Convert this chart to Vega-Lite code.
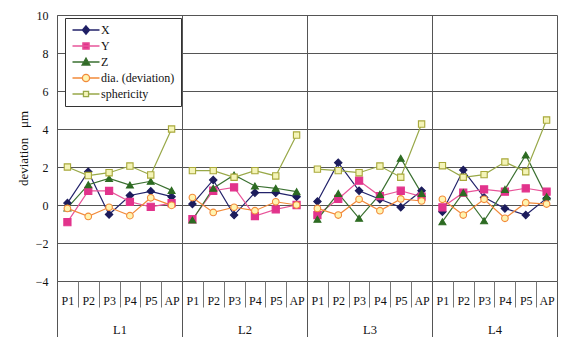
{
  "$schema": "https://vega.github.io/schema/vega-lite/v6.json",
  "width": 500,
  "height": 266,
  "autosize": "none",
  "padding": {"left": 57, "top": 15, "right": 7, "bottom": 56},
  "background": "white",
  "config": {
    "font": "Liberation Serif",
    "view": {"stroke": null},
    "axisY": {
      "values": [-4, -2, 0, 2, 4, 6, 8, 10],
      "grid": true,
      "gridColor": "#555",
      "gridOpacity": 1,
      "tickSize": 0,
      "labelPadding": 9,
      "domainColor": "#555",
      "labelFontSize": 12,
      "labelColor": "#111",
      "titleFontSize": 13,
      "titleFontWeight": "normal",
      "titleColor": "#111",
      "titlePadding": 5
    }
  },
  "data": {
    "values": [
      {"group": "L1", "cat": "L1 P1", "series": "X", "value": 0.1},
      {"group": "L1", "cat": "L1 P2", "series": "X", "value": 1.75},
      {"group": "L1", "cat": "L1 P3", "series": "X", "value": -0.5},
      {"group": "L1", "cat": "L1 P4", "series": "X", "value": 0.5},
      {"group": "L1", "cat": "L1 P5", "series": "X", "value": 0.72},
      {"group": "L1", "cat": "L1 AP", "series": "X", "value": 0.44},
      {"group": "L2", "cat": "L2 P1", "series": "X", "value": 0.05},
      {"group": "L2", "cat": "L2 P2", "series": "X", "value": 1.32},
      {"group": "L2", "cat": "L2 P3", "series": "X", "value": -0.53},
      {"group": "L2", "cat": "L2 P4", "series": "X", "value": 0.65},
      {"group": "L2", "cat": "L2 P5", "series": "X", "value": 0.65},
      {"group": "L2", "cat": "L2 AP", "series": "X", "value": 0.44},
      {"group": "L3", "cat": "L3 P1", "series": "X", "value": 0.18},
      {"group": "L3", "cat": "L3 P2", "series": "X", "value": 2.23},
      {"group": "L3", "cat": "L3 P3", "series": "X", "value": 0.75},
      {"group": "L3", "cat": "L3 P4", "series": "X", "value": 0.3},
      {"group": "L3", "cat": "L3 P5", "series": "X", "value": -0.12},
      {"group": "L3", "cat": "L3 AP", "series": "X", "value": 0.75},
      {"group": "L4", "cat": "L4 P1", "series": "X", "value": -0.35},
      {"group": "L4", "cat": "L4 P2", "series": "X", "value": 1.84},
      {"group": "L4", "cat": "L4 P3", "series": "X", "value": 0.4},
      {"group": "L4", "cat": "L4 P4", "series": "X", "value": -0.18},
      {"group": "L4", "cat": "L4 P5", "series": "X", "value": -0.53},
      {"group": "L4", "cat": "L4 AP", "series": "X", "value": 0.35},

      {"group": "L1", "cat": "L1 P1", "series": "Y", "value": -0.9},
      {"group": "L1", "cat": "L1 P2", "series": "Y", "value": 0.74},
      {"group": "L1", "cat": "L1 P3", "series": "Y", "value": 0.74},
      {"group": "L1", "cat": "L1 P4", "series": "Y", "value": 0.17},
      {"group": "L1", "cat": "L1 P5", "series": "Y", "value": -0.1},
      {"group": "L1", "cat": "L1 AP", "series": "Y", "value": 0.1},
      {"group": "L2", "cat": "L2 P1", "series": "Y", "value": -0.75},
      {"group": "L2", "cat": "L2 P2", "series": "Y", "value": 0.75},
      {"group": "L2", "cat": "L2 P3", "series": "Y", "value": 0.93},
      {"group": "L2", "cat": "L2 P4", "series": "Y", "value": -0.58},
      {"group": "L2", "cat": "L2 P5", "series": "Y", "value": -0.23},
      {"group": "L2", "cat": "L2 AP", "series": "Y", "value": 0.0},
      {"group": "L3", "cat": "L3 P1", "series": "Y", "value": -0.53},
      {"group": "L3", "cat": "L3 P2", "series": "Y", "value": 0.32},
      {"group": "L3", "cat": "L3 P3", "series": "Y", "value": 1.28},
      {"group": "L3", "cat": "L3 P4", "series": "Y", "value": 0.47},
      {"group": "L3", "cat": "L3 P5", "series": "Y", "value": 0.75},
      {"group": "L3", "cat": "L3 AP", "series": "Y", "value": 0.44},
      {"group": "L4", "cat": "L4 P1", "series": "Y", "value": -0.12},
      {"group": "L4", "cat": "L4 P2", "series": "Y", "value": 0.65},
      {"group": "L4", "cat": "L4 P3", "series": "Y", "value": 0.82},
      {"group": "L4", "cat": "L4 P4", "series": "Y", "value": 0.7},
      {"group": "L4", "cat": "L4 P5", "series": "Y", "value": 0.88},
      {"group": "L4", "cat": "L4 AP", "series": "Y", "value": 0.7},

      {"group": "L1", "cat": "L1 P1", "series": "Z", "value": -0.15},
      {"group": "L1", "cat": "L1 P2", "series": "Z", "value": 1.07},
      {"group": "L1", "cat": "L1 P3", "series": "Z", "value": 1.4},
      {"group": "L1", "cat": "L1 P4", "series": "Z", "value": 1.05},
      {"group": "L1", "cat": "L1 P5", "series": "Z", "value": 1.25},
      {"group": "L1", "cat": "L1 AP", "series": "Z", "value": 0.77},
      {"group": "L2", "cat": "L2 P1", "series": "Z", "value": -0.79},
      {"group": "L2", "cat": "L2 P2", "series": "Z", "value": 0.88},
      {"group": "L2", "cat": "L2 P3", "series": "Z", "value": 1.58},
      {"group": "L2", "cat": "L2 P4", "series": "Z", "value": 1.0},
      {"group": "L2", "cat": "L2 P5", "series": "Z", "value": 0.88},
      {"group": "L2", "cat": "L2 AP", "series": "Z", "value": 0.7},
      {"group": "L3", "cat": "L3 P1", "series": "Z", "value": -0.75},
      {"group": "L3", "cat": "L3 P2", "series": "Z", "value": 0.61},
      {"group": "L3", "cat": "L3 P3", "series": "Z", "value": -0.7},
      {"group": "L3", "cat": "L3 P4", "series": "Z", "value": 0.56},
      {"group": "L3", "cat": "L3 P5", "series": "Z", "value": 2.46},
      {"group": "L3", "cat": "L3 AP", "series": "Z", "value": 0.61},
      {"group": "L4", "cat": "L4 P1", "series": "Z", "value": -0.88},
      {"group": "L4", "cat": "L4 P2", "series": "Z", "value": 0.65},
      {"group": "L4", "cat": "L4 P3", "series": "Z", "value": -0.83},
      {"group": "L4", "cat": "L4 P4", "series": "Z", "value": 0.82},
      {"group": "L4", "cat": "L4 P5", "series": "Z", "value": 2.63},
      {"group": "L4", "cat": "L4 AP", "series": "Z", "value": 0.44},

      {"group": "L1", "cat": "L1 P1", "series": "dia. (deviation)", "value": -0.18},
      {"group": "L1", "cat": "L1 P2", "series": "dia. (deviation)", "value": -0.6},
      {"group": "L1", "cat": "L1 P3", "series": "dia. (deviation)", "value": -0.12},
      {"group": "L1", "cat": "L1 P4", "series": "dia. (deviation)", "value": -0.56},
      {"group": "L1", "cat": "L1 P5", "series": "dia. (deviation)", "value": 0.38},
      {"group": "L1", "cat": "L1 AP", "series": "dia. (deviation)", "value": -0.02},
      {"group": "L2", "cat": "L2 P1", "series": "dia. (deviation)", "value": 0.39},
      {"group": "L2", "cat": "L2 P2", "series": "dia. (deviation)", "value": -0.39},
      {"group": "L2", "cat": "L2 P3", "series": "dia. (deviation)", "value": -0.12},
      {"group": "L2", "cat": "L2 P4", "series": "dia. (deviation)", "value": -0.3},
      {"group": "L2", "cat": "L2 P5", "series": "dia. (deviation)", "value": 0.17},
      {"group": "L2", "cat": "L2 AP", "series": "dia. (deviation)", "value": 0.0},
      {"group": "L3", "cat": "L3 P1", "series": "dia. (deviation)", "value": -0.18},
      {"group": "L3", "cat": "L3 P2", "series": "dia. (deviation)", "value": -0.53},
      {"group": "L3", "cat": "L3 P3", "series": "dia. (deviation)", "value": 0.3},
      {"group": "L3", "cat": "L3 P4", "series": "dia. (deviation)", "value": -0.3},
      {"group": "L3", "cat": "L3 P5", "series": "dia. (deviation)", "value": 0.32},
      {"group": "L3", "cat": "L3 AP", "series": "dia. (deviation)", "value": 0.21},
      {"group": "L4", "cat": "L4 P1", "series": "dia. (deviation)", "value": 0.3},
      {"group": "L4", "cat": "L4 P2", "series": "dia. (deviation)", "value": -0.53},
      {"group": "L4", "cat": "L4 P3", "series": "dia. (deviation)", "value": 0.3},
      {"group": "L4", "cat": "L4 P4", "series": "dia. (deviation)", "value": -0.7},
      {"group": "L4", "cat": "L4 P5", "series": "dia. (deviation)", "value": 0.12},
      {"group": "L4", "cat": "L4 AP", "series": "dia. (deviation)", "value": 0.05},

      {"group": "L1", "cat": "L1 P1", "series": "sphericity", "value": 2.0},
      {"group": "L1", "cat": "L1 P2", "series": "sphericity", "value": 1.55},
      {"group": "L1", "cat": "L1 P3", "series": "sphericity", "value": 1.7},
      {"group": "L1", "cat": "L1 P4", "series": "sphericity", "value": 2.05},
      {"group": "L1", "cat": "L1 P5", "series": "sphericity", "value": 1.58},
      {"group": "L1", "cat": "L1 AP", "series": "sphericity", "value": 4.0},
      {"group": "L2", "cat": "L2 P1", "series": "sphericity", "value": 1.81},
      {"group": "L2", "cat": "L2 P2", "series": "sphericity", "value": 1.81},
      {"group": "L2", "cat": "L2 P3", "series": "sphericity", "value": 1.46},
      {"group": "L2", "cat": "L2 P4", "series": "sphericity", "value": 1.81},
      {"group": "L2", "cat": "L2 P5", "series": "sphericity", "value": 1.53},
      {"group": "L2", "cat": "L2 AP", "series": "sphericity", "value": 3.68},
      {"group": "L3", "cat": "L3 P1", "series": "sphericity", "value": 1.89},
      {"group": "L3", "cat": "L3 P2", "series": "sphericity", "value": 1.81},
      {"group": "L3", "cat": "L3 P3", "series": "sphericity", "value": 1.7},
      {"group": "L3", "cat": "L3 P4", "series": "sphericity", "value": 2.05},
      {"group": "L3", "cat": "L3 P5", "series": "sphericity", "value": 1.46},
      {"group": "L3", "cat": "L3 AP", "series": "sphericity", "value": 4.26},
      {"group": "L4", "cat": "L4 P1", "series": "sphericity", "value": 2.07},
      {"group": "L4", "cat": "L4 P2", "series": "sphericity", "value": 1.46},
      {"group": "L4", "cat": "L4 P3", "series": "sphericity", "value": 1.6},
      {"group": "L4", "cat": "L4 P4", "series": "sphericity", "value": 2.26},
      {"group": "L4", "cat": "L4 P5", "series": "sphericity", "value": 1.75},
      {"group": "L4", "cat": "L4 AP", "series": "sphericity", "value": 4.47}
    ]
  },
  "resolve": {
    "scale": {"x": "independent", "stroke": "independent", "fill": "independent", "shape": "independent", "size": "independent"},
    "axis": {"x": "independent"}
  },
  "layer": [
    {
      "mark": {"type": "line", "strokeWidth": 1.2},
      "encoding": {
        "x": {
          "field": "cat",
          "type": "nominal",
          "sort": null,
          "scale": {"paddingInner": 0, "paddingOuter": 0},
          "axis": {
            "orient": "bottom",
            "title": null,
            "tickBand": "extent",
            "tickSize": 26,
            "tickColor": "#777",
            "domain": false,
            "grid": false,
            "labelPadding": -12,
            "labelFontSize": 12,
            "labelColor": "#111",
            "labelAngle": 0,
            "labelExpr": "split(datum.label, ' ')[1]"
          }
        },
        "y": {
          "field": "value",
          "type": "quantitative",
          "scale": {"domain": [-4, 10], "nice": false, "zero": false},
          "axis": {"title": "deviation\u00a0\u00a0\u00a0μm", "values": [-4, -2, 0, 2, 4, 6, 8, 10]}
        },
        "detail": {"field": "group"},
        "order": {"value": null},
        "stroke": {
          "field": "series",
          "type": "nominal",
          "legend": null,
          "scale": {
            "domain": ["X", "Y", "Z", "dia. (deviation)", "sphericity"],
            "range": ["#22226a", "#e8559a", "#3a7030", "#f28a3a", "#98a848"]
          }
        }
      }
    },
    {
      "mark": {"type": "rule", "opacity": 0},
      "encoding": {
        "x": {
          "field": "group",
          "type": "nominal",
          "sort": null,
          "scale": {"paddingInner": 0, "paddingOuter": 0},
          "axis": {
            "orient": "bottom",
            "title": null,
            "tickBand": "extent",
            "grid": true,
            "gridColor": "#555",
            "gridWidth": 1,
            "gridOpacity": 1,
            "tickSize": 56,
            "tickColor": "#555",
            "domain": false,
            "labelPadding": -14,
            "labelFontSize": 12.5,
            "labelColor": "#111",
            "labelAngle": 0
          }
        }
      }
    },
    {
      "mark": {"type": "point", "filled": true, "strokeWidth": 1.1, "opacity": 1},
      "encoding": {
        "x": {"field": "cat", "type": "nominal", "sort": null, "scale": {"paddingInner": 0, "paddingOuter": 0}, "axis": null},
        "y": {
          "field": "value",
          "type": "quantitative",
          "axis": {"title": "deviation\u00a0\u00a0\u00a0μm", "values": [-4, -2, 0, 2, 4, 6, 8, 10]}
        },
        "shape": {
          "field": "series",
          "type": "nominal",
          "legend": null,
          "scale": {
            "domain": ["X", "Y", "Z", "dia. (deviation)", "sphericity"],
            "range": ["diamond", "square", "triangle-up", "circle", "square"]
          }
        },
        "size": {
          "field": "series",
          "type": "nominal",
          "legend": null,
          "scale": {
            "domain": ["X", "Y", "Z", "dia. (deviation)", "sphericity"],
            "range": [55, 40, 50, 50, 22]
          }
        },
        "fill": {
          "field": "series",
          "type": "nominal",
          "legend": null,
          "scale": {
            "domain": ["X", "Y", "Z", "dia. (deviation)", "sphericity"],
            "range": ["#1c1c5c", "#e2338c", "#2d6b22", "#fff4b0", "#f4f4b8"]
          }
        },
        "stroke": {
          "field": "series",
          "type": "nominal",
          "legend": null,
          "scale": {
            "domain": ["X", "Y", "Z", "dia. (deviation)", "sphericity"],
            "range": ["#1c1c5c", "#e2338c", "#2d6b22", "#f28a3a", "#a8a83a"]
          }
        }
      }
    },
    {
      "mark": {"type": "point", "filled": true, "opacity": 0},
      "encoding": {
        "x": {"field": "cat", "type": "nominal", "sort": null, "scale": {"paddingInner": 0, "paddingOuter": 0}, "axis": null},
        "y": {
          "field": "value",
          "type": "quantitative",
          "axis": {"title": "deviation\u00a0\u00a0\u00a0μm", "values": [-4, -2, 0, 2, 4, 6, 8, 10]}
        },
        "shape": {
          "field": "series",
          "type": "nominal",
          "scale": {
            "domain": ["X", "Y", "Z", "dia. (deviation)", "sphericity"],
            "range": [
              "M-4.5,0H4.5M0,-1.4L1.2,0L0,1.4L-1.2,0Z",
              "M-4.5,0H4.5M-1.05,-1.05H1.05V1.05H-1.05Z",
              "M-4.5,0H4.5M0,-1.3L1.3,1H-1.3Z",
              "M-4.5,0H-1.2M1.2,0H4.5M-1.2,0A1.2,1.2,0,1,0,1.2,0A1.2,1.2,0,1,0,-1.2,0Z",
              "M-4.5,0H-0.85M0.85,0H4.5M-0.85,-0.85H0.85V0.85H-0.85Z"
            ]
          },
          "legend": {"title": null, "orient": "none", "legendX": 8, "legendY": 3, "padding": 6, "strokeColor": "#333", "fillColor": "#fff", "symbolSize": 36, "symbolStrokeWidth": 1.3, "symbolOffset": 9, "labelOffset": 9, "labelFontSize": 12, "labelColor": "#111", "rowPadding": 3, "symbolOpacity": 1}
        },
        "fill": {
          "field": "series",
          "type": "nominal",
          "scale": {
            "domain": ["X", "Y", "Z", "dia. (deviation)", "sphericity"],
            "range": ["#1c1c5c", "#e2338c", "#2d6b22", "#fff4b0", "#f4f4b8"]
          },
          "legend": {"title": null, "orient": "none", "legendX": 8, "legendY": 3, "padding": 6, "strokeColor": "#333", "fillColor": "#fff", "symbolSize": 36, "symbolStrokeWidth": 1.3, "symbolOffset": 9, "labelOffset": 9, "labelFontSize": 12, "labelColor": "#111", "rowPadding": 3, "symbolOpacity": 1}
        },
        "stroke": {
          "field": "series",
          "type": "nominal",
          "scale": {
            "domain": ["X", "Y", "Z", "dia. (deviation)", "sphericity"],
            "range": ["#22226a", "#e8559a", "#3a7030", "#f28a3a", "#98a848"]
          },
          "legend": {"title": null, "orient": "none", "legendX": 8, "legendY": 3, "padding": 6, "strokeColor": "#333", "fillColor": "#fff", "symbolSize": 36, "symbolStrokeWidth": 1.3, "symbolOffset": 9, "labelOffset": 9, "labelFontSize": 12, "labelColor": "#111", "rowPadding": 3, "symbolOpacity": 1}
        }
      }
    }
  ]
}
